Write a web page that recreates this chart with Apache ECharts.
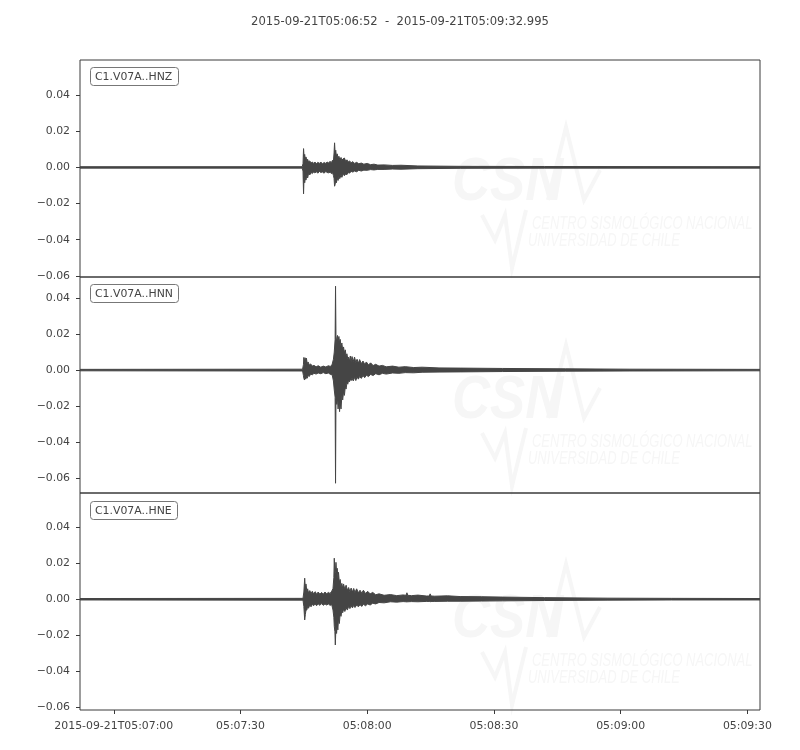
<!DOCTYPE html>
<html>
<head>
<meta charset="utf-8">
<script src="https://cdn.jsdelivr.net/npm/echarts@6/dist/echarts.min.js"></script>
<style>
  html, body { margin: 0; padding: 0; background: #fff; }
  #chart { width: 800px; height: 750px; }
</style>
</head>
<body>
<div id="chart"></div>
<script>
// ---- Data (seconds after 2015-09-21T05:06:52; amplitude envelope) ----
const titleText = '2015-09-21T05:06:52  -  2015-09-21T05:09:32.995';
const traceNames = ['C1.V07A..HNZ', 'C1.V07A..HNN', 'C1.V07A..HNE'];
const xTickValues = [8, 38, 68, 98, 128, 158];
const xTickLabels = ['2015-09-21T05:07:00', '05:07:30', '05:08:00', '05:08:30', '05:09:00', '05:09:30'];
const yTickValues = [-0.06, -0.04, -0.02, 0, 0.02, 0.04];
const yRanges = [[-0.0606, 0.0594], [-0.0680, 0.0515], [-0.0615, 0.0590]];
const xMin = 0, xMax = 160.995;

// HNZ
const hnzT  = [0, 52.6, 52.8, 52.93, 53.05, 53.2, 53.35, 53.5, 53.7, 53.9, 54.1, 54.4, 54.7, 55.0, 55.3, 55.6, 56.0, 56.3, 56.7, 57.0, 57.4, 57.8, 58.2, 58.5, 58.9, 59.2, 59.5, 59.8, 60.0, 60.15, 60.27, 60.4, 60.55, 60.7, 60.9, 61.1, 61.3, 61.5, 61.8, 62.0, 62.3, 62.6, 62.9, 63.2, 63.5, 63.8, 64.2, 64.6, 65.0, 65.5, 66.0, 66.6, 67.2, 68.0, 68.8, 69.6, 70.5, 72, 74, 76, 80, 90, 110, 160.995];
const hnzHi = [0.0004, 0.0004, 0.0020, 0.0104, 0.0060, 0.0072, 0.0045, 0.0058, 0.0038, 0.0045, 0.0030, 0.0036, 0.0024, 0.0030, 0.0022, 0.0030, 0.0020, 0.0028, 0.0022, 0.0030, 0.0020, 0.0027, 0.0022, 0.0030, 0.0024, 0.0034, 0.0026, 0.0040, 0.0035, 0.0080, 0.0136, 0.0080, 0.0095, 0.0062, 0.0075, 0.0050, 0.0062, 0.0045, 0.0055, 0.0040, 0.0048, 0.0052, 0.0034, 0.0042, 0.0030, 0.0036, 0.0026, 0.0032, 0.0022, 0.0028, 0.0020, 0.0024, 0.0018, 0.0022, 0.0015, 0.0018, 0.0013, 0.0014, 0.0011, 0.0012, 0.0008, 0.0006, 0.0005, 0.0004];
const hnzLo = [-0.0004, -0.0004, -0.0020, -0.0146, -0.0050, -0.0085, -0.0060, -0.0070, -0.0045, -0.0058, -0.0035, -0.0042, -0.0028, -0.0034, -0.0025, -0.0030, -0.0024, -0.0032, -0.0022, -0.0028, -0.0025, -0.0032, -0.0022, -0.0028, -0.0030, -0.0026, -0.0034, -0.0030, -0.0045, -0.0060, -0.0104, -0.0095, -0.0070, -0.0085, -0.0060, -0.0072, -0.0050, -0.0062, -0.0042, -0.0055, -0.0038, -0.0046, -0.0036, -0.0040, -0.0028, -0.0032, -0.0022, -0.0026, -0.0020, -0.0024, -0.0016, -0.0020, -0.0015, -0.0016, -0.0012, -0.0014, -0.0011, -0.0011, -0.0009, -0.0010, -0.0007, -0.0005, -0.0004, -0.0004];

// HNN
const hnnT  = [0, 52.7, 52.9, 53.0, 53.15, 53.3, 53.45, 53.6, 53.8, 54.0, 54.3, 54.6, 55.0, 55.4, 55.9, 56.4, 57.0, 57.6, 58.2, 58.8, 59.3, 59.7, 60.0, 60.2, 60.4, 60.5, 60.6, 60.8, 60.95, 61.1, 61.3, 61.45, 61.6, 61.8, 62.0, 62.2, 62.4, 62.6, 62.8, 63.0, 63.2, 63.4, 63.6, 63.8, 64.0, 64.2, 64.4, 64.7, 65.0, 65.3, 65.6, 65.9, 66.2, 66.6, 67.0, 67.4, 67.8, 68.3, 68.8, 69.4, 70.0, 70.8, 71.6, 72.5, 74, 75.5, 77, 79, 81, 85, 90, 100, 115, 130, 160.995];
const hnnHi = [0.0004, 0.0005, 0.0030, 0.0070, 0.0045, 0.0068, 0.0040, 0.0066, 0.0035, 0.0045, 0.0028, 0.0034, 0.0022, 0.0026, 0.0018, 0.0024, 0.0016, 0.0022, 0.0017, 0.0024, 0.0020, 0.0032, 0.0060, 0.0100, 0.0170, 0.0464, 0.0190, 0.0150, 0.0192, 0.0160, 0.0186, 0.0150, 0.0170, 0.0130, 0.0150, 0.0110, 0.0128, 0.0095, 0.0112, 0.0080, 0.0090, 0.0062, 0.0072, 0.0050, 0.0078, 0.0045, 0.0075, 0.0048, 0.0072, 0.0042, 0.0060, 0.0038, 0.0058, 0.0036, 0.0050, 0.0032, 0.0045, 0.0028, 0.0040, 0.0025, 0.0032, 0.0022, 0.0026, 0.0018, 0.0022, 0.0016, 0.0019, 0.0014, 0.0016, 0.0012, 0.0011, 0.0009, 0.0007, 0.0005, 0.0004];
const hnnLo = [-0.0004, -0.0005, -0.0030, -0.0045, -0.0055, -0.0035, -0.0050, -0.0038, -0.0045, -0.0030, -0.0035, -0.0022, -0.0026, -0.0018, -0.0022, -0.0016, -0.0020, -0.0014, -0.0020, -0.0016, -0.0024, -0.0026, -0.0060, -0.0110, -0.0150, -0.0626, -0.0160, -0.0190, -0.0150, -0.0215, -0.0170, -0.0230, -0.0180, -0.0215, -0.0140, -0.0165, -0.0120, -0.0140, -0.0095, -0.0105, -0.0070, -0.0078, -0.0055, -0.0065, -0.0050, -0.0058, -0.0045, -0.0060, -0.0040, -0.0058, -0.0038, -0.0050, -0.0036, -0.0046, -0.0030, -0.0042, -0.0028, -0.0036, -0.0024, -0.0030, -0.0020, -0.0026, -0.0018, -0.0022, -0.0016, -0.0018, -0.0014, -0.0015, -0.0012, -0.0011, -0.0010, -0.0008, -0.0006, -0.0005, -0.0004];

// HNE
const hneT  = [0, 52.8, 53.0, 53.2, 53.35, 53.5, 53.7, 53.9, 54.1, 54.4, 54.7, 55.0, 55.3, 55.7, 56.0, 56.4, 56.8, 57.2, 57.6, 58.0, 58.4, 58.8, 59.2, 59.6, 59.9, 60.1, 60.2, 60.35, 60.45, 60.6, 60.75, 60.9, 61.05, 61.2, 61.4, 61.6, 61.8, 62.0, 62.2, 62.4, 62.7, 63.0, 63.3, 63.6, 63.9, 64.2, 64.5, 64.8, 65.1, 65.5, 65.9, 66.3, 66.7, 67.1, 67.6, 68.1, 68.7, 69.3, 70.0, 70.8, 72, 73.5, 75, 76.5, 77.2, 77.4, 77.6, 78.5, 80, 82, 82.7, 82.9, 83.1, 84, 87, 90, 95, 100, 110, 125, 140, 160.995];
const hneHi = [0.0004, 0.0005, 0.0040, 0.0117, 0.0060, 0.0085, 0.0045, 0.0058, 0.0035, 0.0048, 0.0032, 0.0044, 0.0030, 0.0042, 0.0028, 0.0040, 0.0028, 0.0038, 0.0028, 0.0040, 0.0030, 0.0038, 0.0032, 0.0045, 0.0060, 0.0120, 0.0228, 0.0140, 0.0150, 0.0205, 0.0150, 0.0172, 0.0120, 0.0150, 0.0095, 0.0110, 0.0070, 0.0088, 0.0060, 0.0085, 0.0055, 0.0078, 0.0050, 0.0065, 0.0042, 0.0062, 0.0040, 0.0060, 0.0038, 0.0058, 0.0036, 0.0050, 0.0034, 0.0050, 0.0032, 0.0044, 0.0030, 0.0038, 0.0025, 0.0030, 0.0022, 0.0026, 0.0020, 0.0024, 0.0022, 0.0036, 0.0022, 0.0020, 0.0023, 0.0018, 0.0018, 0.0030, 0.0018, 0.0017, 0.0019, 0.0015, 0.0014, 0.0012, 0.0009, 0.0006, 0.0005, 0.0004];
const hneLo = [-0.0004, -0.0005, -0.0040, -0.0115, -0.0085, -0.0060, -0.0060, -0.0040, -0.0050, -0.0032, -0.0042, -0.0028, -0.0036, -0.0026, -0.0036, -0.0026, -0.0034, -0.0024, -0.0034, -0.0026, -0.0032, -0.0026, -0.0034, -0.0030, -0.0060, -0.0100, -0.0150, -0.0180, -0.0254, -0.0150, -0.0190, -0.0140, -0.0170, -0.0110, -0.0135, -0.0080, -0.0095, -0.0062, -0.0075, -0.0055, -0.0068, -0.0048, -0.0060, -0.0040, -0.0052, -0.0036, -0.0048, -0.0034, -0.0046, -0.0032, -0.0042, -0.0030, -0.0040, -0.0028, -0.0036, -0.0026, -0.0032, -0.0022, -0.0026, -0.0018, -0.0020, -0.0014, -0.0016, -0.0013, -0.0014, -0.0015, -0.0014, -0.0013, -0.0014, -0.0012, -0.0012, -0.0014, -0.0012, -0.0012, -0.0011, -0.0011, -0.0010, -0.0009, -0.0007, -0.0005, -0.0004, -0.0004];

const traces = [
  { t: hnzT, hi: hnzHi, lo: hnzLo },
  { t: hnnT, hi: hnnHi, lo: hnnLo },
  { t: hneT, hi: hneHi, lo: hneLo }
];

// ---- Layout ----
const FONT = 'DejaVu Sans';
const TXT = '#444';
const LINE = '#3a3a3a';
const TRACE = '#454545';
const gridTops = [60, 277, 493];
const gridHeights = [217, 216, 217];

const chart = echarts.init(document.getElementById('chart'), null, { renderer: 'canvas' });

const grids = [], xAxes = [], yAxes = [], series = [], titles = [];
titles.push({
  text: titleText, left: 'center', top: 11,
  textStyle: { fontFamily: FONT, fontSize: 11.6, fontWeight: 'normal', color: TXT }
});

for (let i = 0; i < 3; i++) {
  grids.push({ left: 80, width: 680, top: gridTops[i], height: gridHeights[i], show: true, borderColor: LINE, borderWidth: 1, backgroundColor: 'transparent' });
  const isBottom = i === 2;
  xAxes.push({
    type: 'value', gridIndex: i, min: xMin, max: xMax, position: 'bottom',
    axisLine: { show: false, onZero: false },
    splitLine: { show: false },
    axisTick: { show: isBottom, length: 4, inside: false, lineStyle: { color: LINE }, customValues: xTickValues },
    axisLabel: {
      show: isBottom, margin: 11, fontFamily: FONT, fontSize: 10.9, color: TXT,
      customValues: xTickValues,
      formatter: v => { const k = xTickValues.indexOf(v); return k >= 0 ? xTickLabels[k] : ''; }
    }
  });
  yAxes.push({
    type: 'value', gridIndex: i, min: yRanges[i][0], max: yRanges[i][1], position: 'left',
    axisLine: { show: false, onZero: false },
    splitLine: { show: false },
    axisTick: { show: true, length: 4, lineStyle: { color: LINE }, customValues: yTickValues },
    axisLabel: {
      margin: 10, fontFamily: FONT, fontSize: 10.9, color: TXT,
      customValues: yTickValues,
      formatter: v => (v < -1e-9 ? '\u2212' : '') + Math.abs(v).toFixed(2)
    }
  });
  const tr = traces[i];
  series.push({
    type: 'custom', xAxisIndex: i, yAxisIndex: i, clip: true, z: 5,
    data: [[tr.t[0], tr.hi[0]]],
    renderItem: function (params, api) {
      const pts = [];
      for (let k = 0; k < tr.t.length; k++) pts.push(api.coord([tr.t[k], tr.hi[k]]));
      for (let k = tr.t.length - 1; k >= 0; k--) pts.push(api.coord([tr.t[k], tr.lo[k]]));
      return {
        type: 'polygon',
        shape: { points: pts },
        style: { fill: TRACE, stroke: TRACE, lineWidth: 1 }
      };
    }
  });
}

const labelTops = [67, 284, 501];
for (let i = 0; i < 3; i++) {
  titles.push({
    text: traceNames[i], left: 90, top: labelTops[i],
    padding: [4, 6, 3, 5],
    borderColor: '#777', borderWidth: 1, borderRadius: 3, backgroundColor: '#fff',
    textStyle: { fontFamily: FONT, fontSize: 10.9, fontWeight: 'normal', color: TXT, lineHeight: 12 }
  });
}

// faint watermark (CSN logo text) in each panel
const wm = [];
const WM = '#f6f6f6';
const wmOffsets = [0, 218, 437];
for (let i = 0; i < 3; i++) {
  const dy = wmOffsets[i];
  wm.push({ type: 'text', z: -1, x: 452, y: 152 + dy, style: { text: 'CSN', fill: WM, font: 'italic bold 62px "Liberation Sans"' }, scaleX: 0.85 });
  wm.push({ type: 'polyline', z: -1, shape: { points: [[548, 200 + dy], [566, 127 + dy], [584, 200 + dy], [600, 170 + dy]] }, style: { stroke: WM, lineWidth: 4, fill: null } });
  wm.push({ type: 'polyline', z: -1, shape: { points: [[482, 215 + dy], [495, 240 + dy], [505, 215 + dy], [512, 268 + dy], [526, 210 + dy]] }, style: { stroke: WM, lineWidth: 4, fill: null } });
  wm.push({ type: 'text', z: -1, x: 532, y: 215 + dy, scaleX: 0.72, style: { text: 'CENTRO SISMOLÓGICO NACIONAL', fill: WM, font: 'italic 18px "Liberation Sans"' } });
  wm.push({ type: 'text', z: -1, x: 528, y: 232 + dy, scaleX: 0.72, style: { text: 'UNIVERSIDAD DE CHILE', fill: WM, font: 'italic 18px "Liberation Sans"' } });
}

chart.setOption({
  animation: false,
  backgroundColor: '#fff',
  title: titles,
  grid: grids,
  xAxis: xAxes,
  yAxis: yAxes,
  series: series,
  graphic: wm
});
</script>
</body>
</html>
